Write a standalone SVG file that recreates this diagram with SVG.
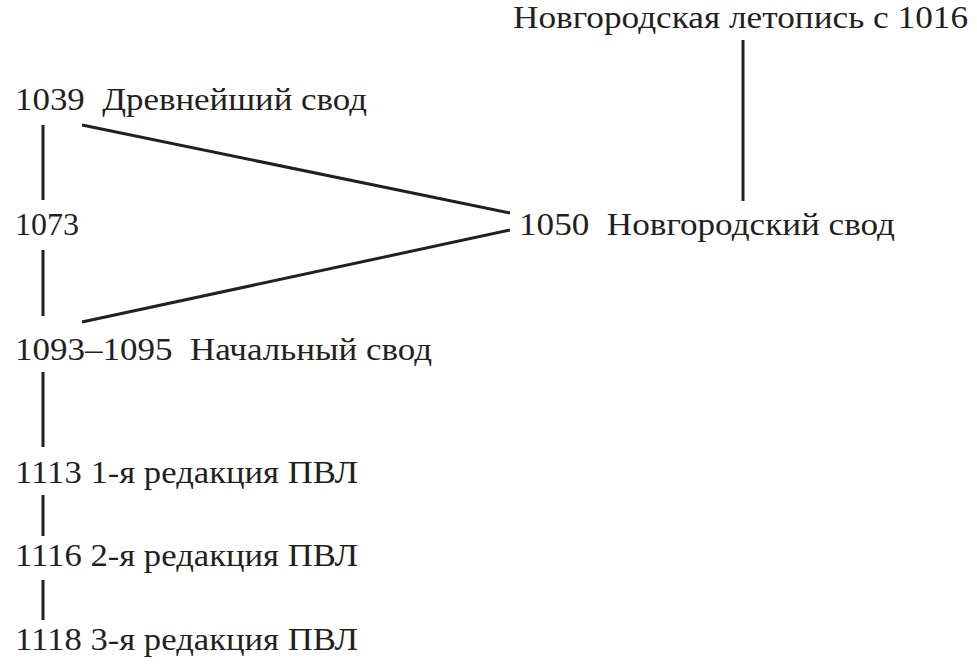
<svg xmlns="http://www.w3.org/2000/svg" width="977" height="664" viewBox="0 0 977 664">
<style>
text{font-family:"Liberation Serif","DejaVu Serif",serif;font-size:32px;fill:#231f20}
line{stroke:#231f20;stroke-width:3}
</style>
<rect width="977" height="664" fill="#fff"/>
<g id="connectors">
<line x1="43" y1="125" x2="43" y2="200"/>
<line x1="43" y1="250" x2="43" y2="316"/>
<line x1="43" y1="372" x2="43" y2="447"/>
<line x1="43" y1="495" x2="43" y2="536"/>
<line x1="43" y1="580" x2="43" y2="620"/>
<line x1="743" y1="40" x2="743" y2="201"/>
<line x1="82" y1="125" x2="510" y2="213"/>
<line x1="82" y1="322" x2="510" y2="230"/>
</g>
<g id="n1016"><text x="513" y="28" textLength="455" lengthAdjust="spacingAndGlyphs">Новгородская летопись с 1016</text></g>
<g id="n1039"><text x="15" y="110" xml:space="preserve" textLength="352" lengthAdjust="spacingAndGlyphs">1039  Древнейший свод</text></g>
<g id="n1073"><text x="15" y="235" textLength="64" lengthAdjust="spacingAndGlyphs">1073</text></g>
<g id="n1093"><text x="15" y="360" xml:space="preserve" textLength="417" lengthAdjust="spacingAndGlyphs">1093–1095  Начальный свод</text></g>
<g id="n1050"><text x="519" y="235" xml:space="preserve" textLength="376" lengthAdjust="spacingAndGlyphs">1050  Новгородский свод</text></g>
<g id="n1113"><text x="15" y="483" textLength="343" lengthAdjust="spacingAndGlyphs">1113 1-я редакция ПВЛ</text></g>
<g id="n1116"><text x="15" y="566" textLength="343" lengthAdjust="spacingAndGlyphs">1116 2-я редакция ПВЛ</text></g>
<g id="n1118"><text x="15" y="650" textLength="343" lengthAdjust="spacingAndGlyphs">1118 3-я редакция ПВЛ</text></g>
</svg>
